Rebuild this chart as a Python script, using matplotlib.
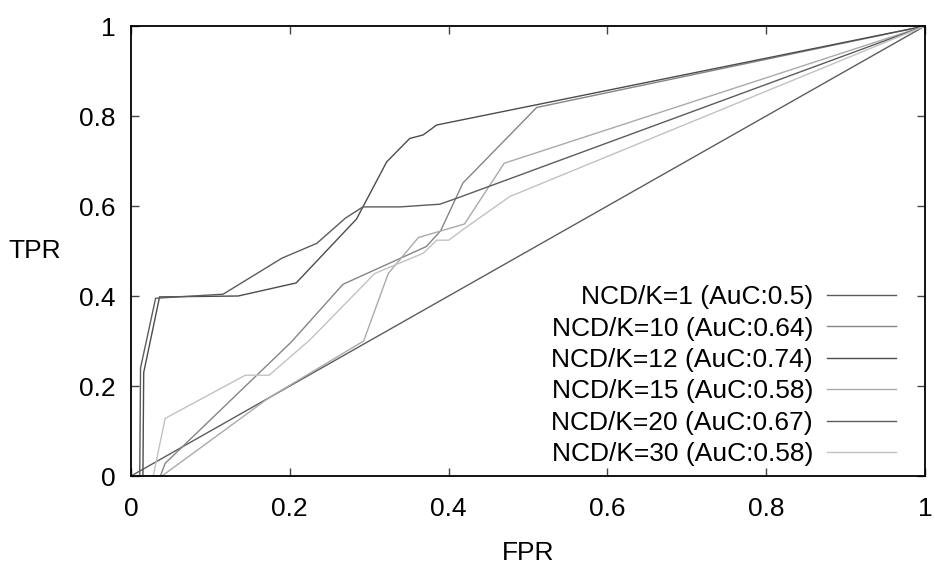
import numpy as np
import matplotlib
matplotlib.use("Agg")
import matplotlib.pyplot as plt

plt.rcParams['font.family'] = ['Liberation Sans', 'DejaVu Sans']
plt.rcParams['font.size'] = 19

# ROC points (FPR, TPR)
fpr_k1 = [0.0, 1.0]
tpr_k1 = [0.0, 1.0]

fpr_k10 = [0.0, 0.037, 0.043, 0.202, 0.267, 0.372, 0.39, 0.418, 0.511, 1.0]
tpr_k10 = [0.0, 0.0, 0.028, 0.298, 0.426, 0.51, 0.545, 0.651, 0.819, 1.0]

fpr_k12 = [0.0, 0.015, 0.016, 0.036, 0.135, 0.208, 0.284, 0.322, 0.351, 0.368, 0.385, 1.0]
tpr_k12 = [0.0, 0.0, 0.23, 0.398, 0.40, 0.429, 0.571, 0.698, 0.75, 0.758, 0.78, 1.0]

fpr_k15 = [0.0, 0.039, 0.173, 0.293, 0.324, 0.362, 0.42, 0.470, 1.0]
tpr_k15 = [0.0, 0.0, 0.173, 0.30, 0.45, 0.53, 0.56, 0.695, 1.0]

fpr_k20 = [0.0, 0.011, 0.012, 0.031, 0.116, 0.19, 0.234, 0.27, 0.292, 0.339, 0.389, 0.41, 1.0]
tpr_k20 = [0.0, 0.0, 0.24, 0.395, 0.404, 0.484, 0.517, 0.573, 0.598, 0.598, 0.604, 0.617, 1.0]

fpr_k30 = [0.0, 0.028, 0.043, 0.144, 0.174, 0.225, 0.307, 0.368, 0.385, 0.40, 0.42, 0.477, 1.0]
tpr_k30 = [0.0, 0.0, 0.128, 0.224, 0.224, 0.302, 0.45, 0.495, 0.524, 0.524, 0.55, 0.621, 1.0]

labels = ["NCD/K=1 (AuC:0.5)", "NCD/K=10 (AuC:0.64)", "NCD/K=12 (AuC:0.74)",
          "NCD/K=15 (AuC:0.58)", "NCD/K=20 (AuC:0.67)", "NCD/K=30 (AuC:0.58)"]
colors = ["#5c5c5c", "#858585", "#4c4c4c", "#aaaaaa", "#5c5c5c", "#c2c2c2"]

tick_vals = [0, 0.2, 0.4, 0.6, 0.8, 1]
tick_labels = ["0", "0.2", "0.4", "0.6", "0.8", "1"]

fig = plt.figure(figsize=(9.35, 5.65), dpi=100)
ax = fig.add_axes([131 / 935, 89 / 565, 794 / 935, 450 / 565])

series = [(fpr_k1, tpr_k1), (fpr_k10, tpr_k10), (fpr_k12, tpr_k12),
          (fpr_k15, tpr_k15), (fpr_k20, tpr_k20), (fpr_k30, tpr_k30)]
for (x, y), lab, col in zip(series, labels, colors):
    ax.plot(x, y, color=col, linewidth=1.0, label=lab, solid_joinstyle='miter')

ax.set_xlim(0, 1)
ax.set_ylim(0, 1)
ax.set_xticks(tick_vals)
ax.set_xticklabels(tick_labels)
ax.set_yticks(tick_vals)
ax.set_yticklabels(tick_labels)
ax.tick_params(direction='in', length=6, width=1, color='#444444',
               top=True, right=True)
ax.tick_params(axis='x', pad=15)
ax.tick_params(axis='y', pad=11)
for sp in ax.spines.values():
    sp.set_linewidth(1.3)

ax.set_xlabel("FPR")
ax.xaxis.set_label_coords(0.5, -0.145)
ax.set_ylabel("TPR", rotation=0, ha='center', va='center')
ax.yaxis.set_label_coords(-0.121, 0.5)

ax.legend(loc='upper right', bbox_to_anchor=(0.9635, 0.424), frameon=False,
          markerfirst=False, handlelength=2.6, handletextpad=0.55,
          labelspacing=0.28, borderpad=0, borderaxespad=0, fontsize=19)

fig.savefig("out.png", dpi=100)
